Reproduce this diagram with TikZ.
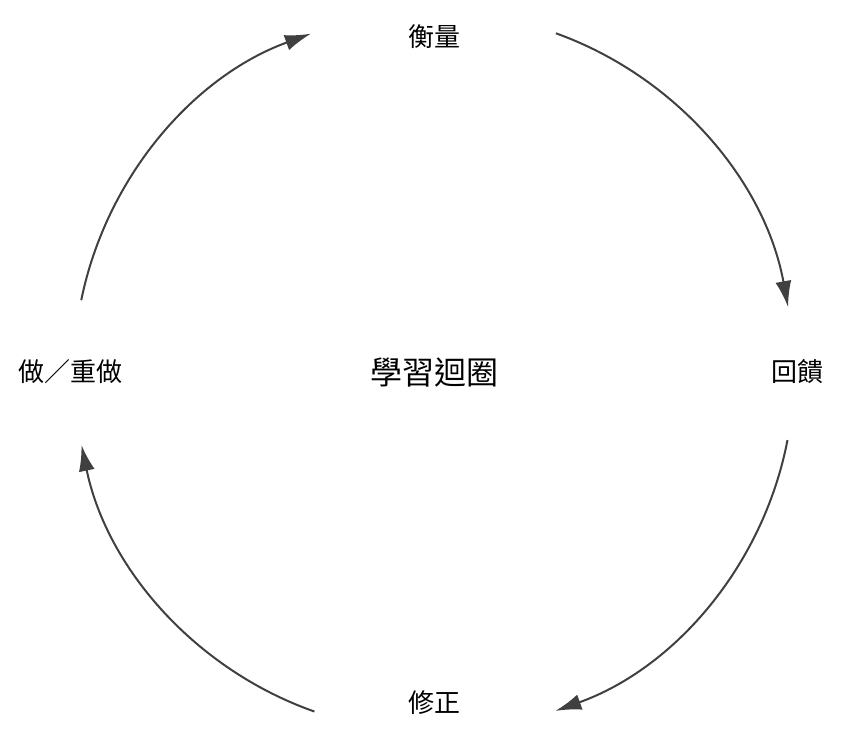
\documentclass[tikz,border=0pt]{standalone}
\usepackage{fontspec}
\setmainfont{Noto Sans CJK TC}
\usetikzlibrary{arrows.meta}
\begin{document}
\begin{tikzpicture}[x=1pt,y=-1pt,
  lbl/.style={font=\fontsize{26}{30}\selectfont, text=black},
  arc/.style={draw=black!75, line width=2pt, -{Latex[length=26pt,width=16pt]}}]
\useasboundingbox (0,0) rectangle (841,739);
\coordinate (c) at (434,372);
\node[lbl] (top) at (434,37) {衡量};
\node[lbl] (right) at (797,372) {回饋};
\node[lbl] (bottom) at (434,703) {修正};
\node[lbl] (left) at (70,372) {做／重做};
\node[font=\fontsize{32}{36}\selectfont] (mid) at (c) {學習迴圈};
\begin{scope}[y=1pt]
\draw[arc] ([shift={(70.2:360)}]434,-372) arc[start angle=70.2,end angle=10.4,radius=360];
\draw[arc] ([shift={(-10.9:360)}]434,-372) arc[start angle=-10.9,end angle=-70.3,radius=360];
\draw[arc] ([shift={(-109.4:360)}]434,-372) arc[start angle=-109.4,end angle=-168.3,radius=360];
\draw[arc] ([shift={(168.5:360)}]434,-372) arc[start angle=168.5,end angle=110,radius=360];
\end{scope}
\end{tikzpicture}
\end{document}
